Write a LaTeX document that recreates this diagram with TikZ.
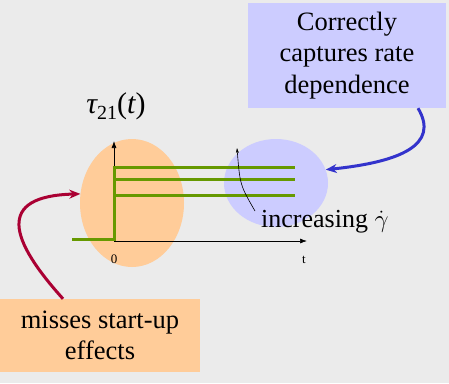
\documentclass[tikz,border=0pt]{standalone}
\usepackage{fontspec}
\setmainfont{Liberation Serif}
\usepackage{xcolor}
\usetikzlibrary{arrows.meta,positioning,shapes.geometric}
\definecolor{bggray}{RGB}{235,235,235}
\definecolor{rateblue}{RGB}{204,204,255}
\definecolor{startorange}{RGB}{255,204,153}
\definecolor{stressgreen}{RGB}{102,153,0}
\definecolor{missred}{RGB}{170,0,51}
\definecolor{pushblue}{RGB}{51,51,204}

\begin{document}
\begin{tikzpicture}[x=1pt, y=-1pt,
    note/.style={rectangle, inner sep=0pt, align=center, font=\fontsize{26.5}{31.5}\selectfont},
    blob/.style={ellipse, inner sep=0pt, minimum width=104pt},
    stress/.style={line width=3pt, color=stressgreen},
    axis/.style={-{Latex[length=7pt, width=5pt]}, line width=0.7pt},
    callout/.style={-{Stealth[length=11pt, width=9pt]}, line width=3pt},
]
    \useasboundingbox[fill=bggray] (0,0) rectangle (449,383);

    % Highlighted regions
    \node[blob, fill=startorange, minimum height=128pt] (early) at (132,203) {};
    \node[blob, fill=rateblue, minimum height=88pt] (steady) at (276,183) {};

    % Axes
    \coordinate (origin) at (114,241);
    \coordinate (tend) at (307,241);
    \coordinate (ytop) at (114,141);
    \draw[axis] (origin) -- (tend);
    \draw[axis] (origin) -- (ytop);
    \node[font=\fontsize{13}{15}\selectfont] (zero) at (114,259) {0};
    \node[font=\fontsize{13}{15}\selectfont] (tlab) at (304,260) {t};
    \node[font=\fontsize{30}{32}\selectfont, anchor=base] (ylab) at (116,113)
        {{\itshape τ}\raisebox{-6pt}{\fontsize{20}{22}\selectfont 21}({\itshape t})};

    % Stress response
    \draw[stress] (72,239) -- (114,239) -- (114,167) -- (295,167);
    \draw[stress] (114,179) -- (295,179);
    \draw[stress] (114,195) -- (295,195);

    % Rate label
    \node[font=\fontsize{26}{28}\selectfont, anchor=base west, inner sep=0pt] (inc) at (261,227) {increasing $\dot\gamma$};
    \coordinate (incfoot) at (255,211);
    \coordinate (inctip) at (237,148);
    \draw[-{Stealth[length=5pt, width=3pt]}, line width=0.6pt] (incfoot) .. controls (240,185) .. (inctip);

    % Comments
    \node[note, fill=rateblue, minimum width=198pt, minimum height=105pt] (rate) at (347,55.5) {Correctly\\captures rate\\dependence};
    \node[note, fill=startorange, minimum width=200pt, minimum height=73pt] (startup) at (100,335.5) {misses start-up\\effects};

    % Arrows
    \draw[callout, pushblue] ([xshift=71pt]rate.south) .. controls (440,145) and (400,162) .. (steady.15);
    \draw[callout, missred] ([xshift=-37pt]startup.north) .. controls (10,240) and (-5,196) .. (early.170);
\end{tikzpicture}
\end{document}
